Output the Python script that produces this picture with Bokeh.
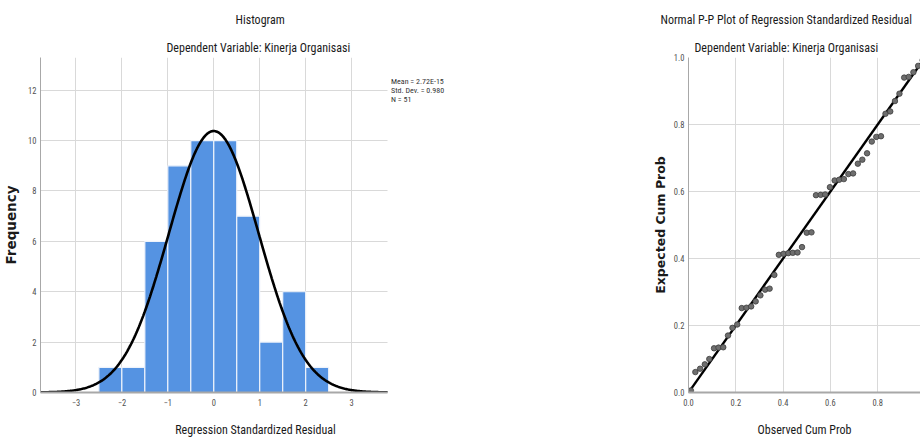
import numpy as np
from bokeh.plotting import figure
from bokeh.models import (Range1d, FixedTicker, PrintfTickFormatter, Title, Legend,
                          LegendItem)
from bokeh.layouts import row
from bokeh.embed import file_html
from bokeh.resources import INLINE

# ---------------- data ----------------
bin_left = [-2.5, -2.0, -1.5, -1.0, -0.5, 0.0, 0.5, 1.0, 1.5, 2.0]
bin_right = [-2.0, -1.5, -1.0, -0.5, 0.0, 0.5, 1.0, 1.5, 2.0, 2.5]
frequency = [1, 1, 6, 9, 10, 10, 7, 2, 4, 1]
hist_x_ticks = [-3, -2, -1, 0, 1, 2, 3]
hist_y_ticks = [0, 2, 4, 6, 8, 10, 12]
resid_mean = 2.72e-15
resid_sd = 0.980
n_obs = 51
bin_width = 0.5
stats_text = ["Mean = 2.72E-15", "Std. Dev. = 0.980", "N = 51"]

observed_cum_prob = [0.010, 0.029, 0.049, 0.069, 0.088, 0.108, 0.127, 0.147, 0.167, 0.186,
                     0.206, 0.225, 0.245, 0.265, 0.284, 0.304, 0.324, 0.343, 0.363, 0.382,
                     0.402, 0.422, 0.441, 0.461, 0.480, 0.500, 0.520, 0.539, 0.559, 0.578,
                     0.598, 0.618, 0.637, 0.657, 0.676, 0.696, 0.716, 0.735, 0.755, 0.775,
                     0.794, 0.814, 0.833, 0.853, 0.873, 0.892, 0.912, 0.931, 0.951, 0.971,
                     0.990]
expected_cum_prob = [0.006, 0.061, 0.071, 0.084, 0.100, 0.132, 0.134, 0.135, 0.170, 0.193,
                     0.203, 0.252, 0.253, 0.257, 0.272, 0.290, 0.307, 0.310, 0.351, 0.411,
                     0.414, 0.416, 0.417, 0.418, 0.434, 0.477, 0.478, 0.589, 0.590, 0.591,
                     0.613, 0.633, 0.635, 0.637, 0.652, 0.654, 0.683, 0.695, 0.714, 0.749,
                     0.763, 0.765, 0.832, 0.839, 0.870, 0.892, 0.940, 0.942, 0.956, 0.975,
                     0.992]
diag_x = [0.0, 1.0]
diag_y = [0.0, 1.0]
pp_ticks = [0.0, 0.2, 0.4, 0.6, 0.8, 1.0]

# ---------------- style ----------------
NARROW = "Roboto Condensed, Liberation Sans, sans-serif"
BOLD = "DejaVu Sans"
GRID = "#d9d9d9"
AXIS = "#a8a8a8"
TICKTXT = "#505050"
BAR = "#5593e2"
TXT = "#1a1a1a"
TSIZE = "12px"

HX0, HX1 = -3.77, 3.78          # visible histogram axis extent
HX_END = 5.586                  # frame continues to hold the statistics text


def style(p):
    p.outline_line_color = None
    p.background_fill_color = "white"
    p.border_fill_color = "white"
    for ax in (p.xaxis, p.yaxis):
        ax.major_tick_line_color = None
        ax.minor_tick_line_color = None
        ax.major_tick_out = 0
        ax.major_tick_in = 0
        ax.axis_line_color = AXIS
        ax.major_label_text_font = NARROW
        ax.major_label_text_font_size = "8.5px"
        ax.major_label_text_color = TICKTXT
    p.xaxis.axis_line_width = 2
    p.xaxis.major_label_standoff = 6
    p.yaxis.major_label_standoff = 4
    p.xaxis.axis_label_text_font = NARROW
    p.xaxis.axis_label_text_font_size = TSIZE
    p.xaxis.axis_label_text_font_style = "normal"
    p.xaxis.axis_label_text_color = TXT
    p.xaxis.axis_label_standoff = 14
    p.yaxis.axis_label_text_font = BOLD
    p.yaxis.axis_label_text_font_style = "bold"
    p.yaxis.axis_label_text_color = TXT
    p.xgrid.grid_line_color = GRID
    p.ygrid.grid_line_color = GRID


def titles(p, main, sub, offset_main, offset_sub):
    # left-aligned titles, offset in pixels from the frame's left edge
    t_sub = Title(text=sub, align="left", offset=offset_sub, text_font=NARROW,
                  text_font_size=TSIZE, text_font_style="normal", text_color=TXT,
                  standoff=5)
    p.add_layout(t_sub, "above")
    t_main = Title(text=main, align="left", offset=offset_main, text_font=NARROW,
                   text_font_size=TSIZE, text_font_style="normal", text_color=TXT,
                   standoff=19)
    p.add_layout(t_main, "above")


# ---------------- histogram ----------------
p1 = figure(frame_width=430, frame_height=335, output_backend="svg", toolbar_location=None,
            title=None, x_range=Range1d(HX0, HX_END), y_range=Range1d(0, 13.3),
            min_border_left=40, min_border_right=130, min_border_top=57,
            min_border_bottom=47)
style(p1)
p1.xaxis.ticker = FixedTicker(ticks=hist_x_ticks)
p1.yaxis.ticker = FixedTicker(ticks=hist_y_ticks)
p1.xaxis.bounds = (HX0, HX1)
p1.xaxis.axis_label = "Regression Standardized Residual"
p1.yaxis.axis_label = "Frequency"
p1.yaxis.axis_label_text_font_size = "13.5px"
p1.yaxis.axis_label_standoff = 6
titles(p1, "Histogram", "Dependent Variable: Kinerja Organisasi", 195, 126)

ygrid = p1.ygrid[0]
if "cross_bounds" in ygrid.properties():
    ygrid.cross_bounds = (HX0, HX1)
    cover = False
else:
    cover = True

p1.quad(left=bin_left, right=bin_right, bottom=0, top=frequency,
        fill_color=BAR, line_color="#eef3fb", line_width=1.2)
if cover:
    p1.quad(left=[HX1], right=[HX_END], bottom=[0], top=[13.3],
            fill_color="white", line_color=None)

xs = np.linspace(HX0, HX1, 400)
curve = n_obs * bin_width * np.exp(-0.5 * ((xs - resid_mean) / resid_sd) ** 2) / (resid_sd * np.sqrt(2 * np.pi))
curve_r = p1.line(xs, curve, line_color="black", line_width=2.6)

legend = Legend(items=[LegendItem(label=s, renderers=[curve_r]) for s in stats_text],
                location=(351, 288), glyph_width=0, glyph_height=9, label_height=9,
                label_standoff=0, spacing=0, padding=0, margin=0,
                label_text_font=NARROW, label_text_font_size="8px",
                label_text_color="#333333", border_line_color=None,
                background_fill_alpha=0, click_policy="none")
p1.add_layout(legend)

# ---------------- P-P plot ----------------
p2 = figure(frame_width=232, frame_height=335, output_backend="svg", toolbar_location=None,
            title=None, x_range=Range1d(0, 0.981), y_range=Range1d(0, 1.0),
            min_border_left=88, min_border_right=0, min_border_top=57,
            min_border_bottom=47)
style(p2)
p2.xaxis.ticker = FixedTicker(ticks=pp_ticks)
p2.yaxis.ticker = FixedTicker(ticks=pp_ticks)
p2.xaxis.formatter = PrintfTickFormatter(format="%.1f")
p2.yaxis.formatter = PrintfTickFormatter(format="%.1f")
p2.xaxis.axis_label = "Observed Cum Prob"
p2.yaxis.axis_label = "Expected Cum Prob"
p2.yaxis.axis_label_text_font_size = "12.5px"
p2.yaxis.axis_label_standoff = 3
titles(p2, "Normal P-P Plot of Regression Standardized Residual",
       "Dependent Variable: Kinerja Organisasi", -28, 6)

p2.line(diag_x, diag_y, line_color="black", line_width=2.4)
p2.scatter(observed_cum_prob, expected_cum_prob, size=5.5, fill_color="#6e6e6e",
           line_color="#3c3c3c", line_width=0.8)

layout = row(p1, p2, spacing=0)
open("out.html", "w").write(file_html(layout, INLINE))
